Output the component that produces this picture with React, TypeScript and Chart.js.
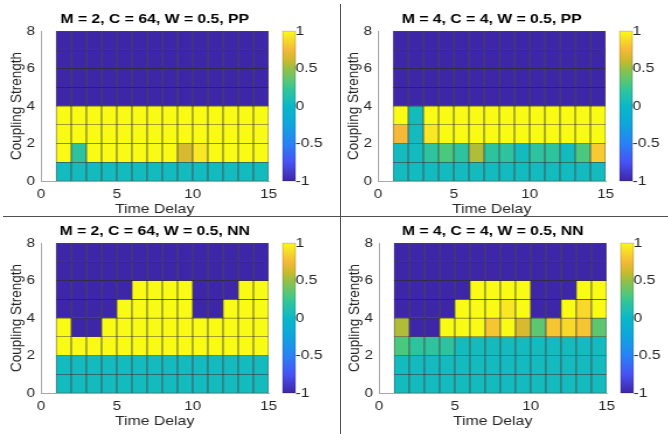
import React, { useEffect, useRef } from "react";
import { Chart, registerables } from "chart.js";
Chart.register(...registerables);

// ---------- data ----------
const timeDelay = [1, 2, 3, 4, 5, 6, 7, 8, 9, 10, 11, 12, 13, 14];
const couplingStrength = [0, 1, 2, 3, 4, 5, 6, 7];
const xTicks = [0, 5, 10, 15];
const yTicks = [0, 2, 4, 6, 8];
const colorTicks = [-1, -0.5, 0, 0.5, 1];

const titleA = "M = 2, C = 64, W = 0.5, PP";
const titleB = "M = 4, C = 4, W = 0.5, PP";
const titleC = "M = 2, C = 64, W = 0.5, NN";
const titleD = "M = 4, C = 4, W = 0.5, NN";

// rows: coupling strength 0..7 (bottom to top), columns: time delay 1..14
const valuesA = [
  [0.05, 0.05, 0.05, 0.05, 0.05, 0.05, 0.05, 0.05, 0.05, 0.05, 0.05, 0.05, 0.05, 0.05],
  [1, 0.2, 1, 1, 1, 1, 1, 1, 0.65, 0.93, 1, 1, 1, 1],
  [1, 1, 1, 1, 1, 1, 1, 1, 1, 1, 1, 1, 1, 1],
  [1, 1, 1, 1, 1, 1, 1, 1, 1, 1, 1, 1, 1, 1],
  [-1, -1, -1, -1, -1, -1, -1, -1, -1, -1, -1, -1, -1, -1],
  [-1, -1, -1, -1, -1, -1, -1, -1, -1, -1, -1, -1, -1, -1],
  [-1, -1, -1, -1, -1, -1, -1, -1, -1, -1, -1, -1, -1, -1],
  [-1, -1, -1, -1, -1, -1, -1, -1, -1, -1, -1, -1, -1, -1],
];
const valuesB = [
  [0.05, 0.05, 0.05, 0.05, 0.05, 0.05, 0.05, 0.05, 0.05, 0.05, 0.05, 0.05, 0.05, 0.05],
  [0.05, 0.05, 0.2, 0.3, 0.2, 0.55, 0.2, 0.2, 0.05, 0.2, 0.2, 0.05, 0.3, 0.82],
  [0.75, 0.05, 0.93, 1, 1, 1, 1, 1, 1, 1, 1, 1, 1, 1],
  [1, 0.05, 1, 1, 1, 1, 1, 1, 1, 1, 1, 1, 1, 1],
  [-1, -1, -1, -1, -1, -1, -1, -1, -1, -1, -1, -1, -1, -1],
  [-1, -1, -1, -1, -1, -1, -1, -1, -1, -1, -1, -1, -1, -1],
  [-1, -1, -1, -1, -1, -1, -1, -1, -1, -1, -1, -1, -1, -1],
  [-1, -1, -1, -1, -1, -1, -1, -1, -1, -1, -1, -1, -1, -1],
];
const valuesC = [
  [0.05, 0.05, 0.05, 0.05, 0.05, 0.05, 0.05, 0.05, 0.05, 0.05, 0.05, 0.05, 0.05, 0.05],
  [0.05, 0.05, 0.05, 0.05, 0.05, 0.05, 0.05, 0.05, 0.05, 0.05, 0.05, 0.05, 0.05, 0.05],
  [1, 1, 1, 1, 1, 1, 1, 1, 1, 1, 1, 1, 1, 1],
  [1, -1, -1, 1, 1, 1, 1, 1, 1, 1, 1, 1, 1, 1],
  [-1, -1, -1, -1, 1, 1, 1, 1, 1, -1, -1, 1, 1, 1],
  [-1, -1, -1, -1, -1, 1, 1, 1, 1, -1, -1, -1, 1, 1],
  [-1, -1, -1, -1, -1, -1, -1, -1, -1, -1, -1, -1, -1, -1],
  [-1, -1, -1, -1, -1, -1, -1, -1, -1, -1, -1, -1, -1, -1],
];
const valuesD = [
  [0.05, 0.05, 0.05, 0.05, 0.05, 0.05, 0.05, 0.05, 0.05, 0.05, 0.05, 0.05, 0.05, 0.05],
  [0.05, 0.05, 0.05, 0.05, 0.05, 0.05, 0.05, 0.05, 0.05, 0.05, 0.05, 0.05, 0.05, 0.05],
  [0.3, 0.2, 0.2, 0.2, 0.05, 0.05, 0.05, 0.05, 0.05, 0.05, 0.05, 0.05, 0.05, 0.05],
  [0.55, -1, -1, 1, 1, 1, 0.8, 1, 0.65, 0.35, 0.8, 0.88, 0.8, 0.35],
  [-1, -1, -1, -1, 1, 1, 1, 0.93, 1, -1, -1, 1, 0.88, 1],
  [-1, -1, -1, -1, -1, 1, 1, 1, 1, -1, -1, -1, 1, 1],
  [-1, -1, -1, -1, -1, -1, -1, -1, -1, -1, -1, -1, -1, -1],
  [-1, -1, -1, -1, -1, -1, -1, -1, -1, -1, -1, -1, -1, -1],
];

// ---------- style ----------
const FONT = "'Liberation Sans', Arial, Helvetica, sans-serif";
const TEXT = "#262626";
const parulaStops: [number, number[]][] = [
  [0.0, [62, 38, 168]],
  [0.125, [72, 82, 244]],
  [0.25, [40, 130, 245]],
  [0.375, [15, 165, 222]],
  [0.5, [10, 184, 200]],
  [0.55, [30, 190, 180]],
  [0.6, [45, 195, 158]],
  [0.65, [75, 200, 128]],
  [0.75, [150, 192, 70]],
  [0.8, [200, 186, 45]],
  [0.875, [245, 185, 55]],
  [0.95, [248, 222, 40]],
  [1.0, [249, 251, 20]],
];
const rgb = (c: number[]) => `rgb(${Math.round(c[0])},${Math.round(c[1])},${Math.round(c[2])})`;
function parula(v: number): string {
  const t = (Math.max(-1, Math.min(1, v)) + 1) / 2;
  for (let i = 1; i < parulaStops.length; i++) {
    const [t1, c1] = parulaStops[i];
    const [t0, c0] = parulaStops[i - 1];
    if (t <= t1) {
      const f = (t - t0) / (t1 - t0);
      return rgb([0, 1, 2].map((k) => c0[k] + (c1[k] - c0[k]) * f));
    }
  }
  return rgb(parulaStops[parulaStops.length - 1][1]);
}

const CW = 286; // internal canvas width
const CH = 217;
const CSSW = 334; // displayed width (horizontal stretch as in reference)

const colorbarPlugin = {
  id: "colorbar",
  afterDraw(chart: any) {
    const sc = chart.scales.cb;
    const ca = chart.chartArea;
    const ctx = chart.ctx;
    const x0 = ca.right + 12;
    const w = 11;
    const yTop = sc.getPixelForValue(colorTicks[colorTicks.length - 1]);
    const yBot = sc.getPixelForValue(colorTicks[0]);
    const g = ctx.createLinearGradient(0, yBot, 0, yTop);
    parulaStops.forEach(([t, c]) => g.addColorStop(t, rgb(c)));
    ctx.save();
    ctx.fillStyle = g;
    ctx.fillRect(x0, yTop, w, yBot - yTop);
    ctx.strokeStyle = "rgba(0,0,0,0.3)";
    ctx.lineWidth = 0.6;
    ctx.strokeRect(x0, yTop, w, yBot - yTop);
    ctx.restore();
  },
};

function Panel({ title, values, left, top }: { title: string; values: number[][]; left: number; top: number }) {
  const ref = useRef<HTMLCanvasElement>(null);
  useEffect(() => {
    const cells: any[] = [];
    couplingStrength.forEach((cs, r) =>
      timeDelay.forEach((td, c) => cells.push({ x: td + 0.5, y: [cs, cs + 1], v: values[r][c] }))
    );
    const tickFont = { family: FONT, size: 13 };
    const chart = new Chart(ref.current as HTMLCanvasElement, {
      type: "bar",
      data: {
        datasets: [
          {
            data: cells,
            backgroundColor: (c: any) => (c.raw ? parula(c.raw.v) : "#000"),
            borderColor: "rgba(0,0,0,0.68)",
            borderWidth: { top: 0.55, bottom: 0.55, left: 0.75, right: 0.75 },
            borderSkipped: false,
            barPercentage: 1,
            categoryPercentage: 1,
            grouped: false,
          } as any,
        ],
      },
      options: {
        responsive: false,
        animation: false,
        events: [],
        layout: { padding: 0 },
        plugins: {
          legend: { display: false },
          tooltip: { enabled: false },
          title: {
            display: true,
            text: title,
            fullSize: false,
            color: "#000",
            font: { family: FONT, size: 13.5, weight: "bold" },
            padding: { top: 7, bottom: 4 },
          } as any,
        },
        scales: {
          x: {
            type: "linear",
            min: 0,
            max: 15,
            offset: false,
            grid: { display: false, drawTicks: false },
            border: { display: true, color: "#a8a8a8", width: 1 },
            afterBuildTicks: (s: any) => {
              s.ticks = xTicks.map((v) => ({ value: v }));
            },
            ticks: { font: tickFont, color: TEXT, padding: 6, maxRotation: 0, autoSkip: false, callback: (v: any) => String(v) },
            title: { display: true, text: "Time Delay", color: TEXT, font: { family: FONT, size: 13.5 }, padding: { top: 0, bottom: 0 } },
            afterFit: (s: any) => {
              s.height = 36;
            },
          } as any,
          y: {
            type: "linear",
            min: 0,
            max: 8,
            grid: { display: false, drawTicks: false },
            border: { display: true, color: "#a8a8a8", width: 1 },
            afterBuildTicks: (s: any) => {
              s.ticks = yTicks.map((v) => ({ value: v }));
            },
            ticks: { font: tickFont, color: TEXT, padding: 5, autoSkip: false, callback: (v: any) => String(v) },
            title: { display: true, text: "Coupling Strength", color: TEXT, font: { family: FONT, size: 13.5 }, padding: { top: 6.5, bottom: 0 } },
            afterFit: (s: any) => {
              s.width = 35;
            },
          } as any,
          cb: {
            type: "linear",
            position: "right",
            min: -1,
            max: 1,
            grid: { display: false, drawTicks: false },
            border: { display: false },
            afterBuildTicks: (s: any) => {
              s.ticks = colorTicks.map((v) => ({ value: v }));
            },
            ticks: { font: { family: FONT, size: 13.5 }, color: TEXT, padding: 23, autoSkip: false, callback: (v: any) => String(v) },
            afterFit: (s: any) => {
              s.width = 56;
            },
          } as any,
        },
      },
      plugins: [colorbarPlugin],
    });
    return () => chart.destroy();
  }, [title, values]);
  return (
    <canvas
      ref={ref}
      width={CW}
      height={CH}
      style={{ position: "absolute", left, top, width: CSSW, height: CH, display: "block" }}
    />
  );
}

export default function App() {
  return (
    <div
      style={{
        position: "absolute",
        left: 0,
        top: 0,
        width: 668,
        height: 434,
        overflow: "hidden",
        background: "#fff",
      }}
    >
      <Panel title={titleA} values={valuesA} left={0} top={0} />
      <Panel title={titleB} values={valuesB} left={337} top={0} />
      <Panel title={titleC} values={valuesC} left={0} top={212} />
      <Panel title={titleD} values={valuesD} left={338} top={212} />
      <div style={{ position: "absolute", left: 340, top: 4, width: 1, height: 430, background: "#505050" }} />
      <div style={{ position: "absolute", left: 3, top: 216, width: 665, height: 1, background: "#505050" }} />
    </div>
  );
}
